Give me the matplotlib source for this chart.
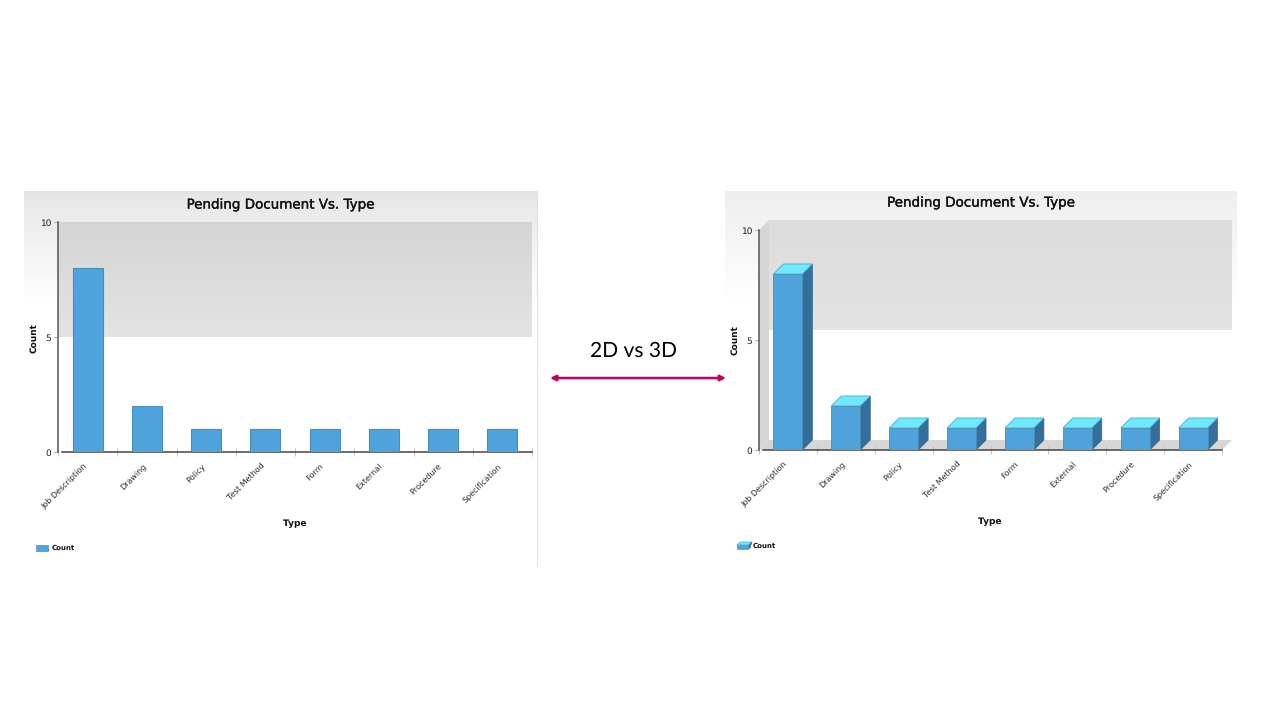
import numpy as np
import matplotlib
matplotlib.use('Agg')
import matplotlib.pyplot as plt
import matplotlib.patheffects as pe
from matplotlib.patches import Polygon, Rectangle
from matplotlib.transforms import ScaledTranslation

types = ['Job Description', 'Drawing', 'Policy', 'Test Method', 'Form',
         'External', 'Procedure', 'Specification']
counts = [8, 2, 1, 1, 1, 1, 1, 1]
y_ticks = [0, 5, 10]
title = 'Pending Document Vs. Type'

BAR = '#4fa3dc'
BAR_EDGE = '#4a8db5'
TOP = '#70e9ff'
SIDE = '#336f9a'
WALL = '#d6d6d6'
TEXT = '#222222'

plt.rcParams['font.family'] = 'DejaVu Sans'
plt.rcParams['text.hinting'] = 'no_hinting'
plt.rcParams['text.hinting_factor'] = 1

W, H = 1280, 720
fig = plt.figure(figsize=(W / 100, H / 100), dpi=100)


def px_axes(x0, y0, x1, y1):
    # axes placed with picture pixels, y measured from the top
    ax = fig.add_axes([x0 / W, 1 - y1 / H, (x1 - x0) / W, (y1 - y0) / H])
    ax.patch.set_alpha(0)
    return ax


def gradient(ax, extent, c_top, c_bottom, zorder=0):
    cmap = matplotlib.colors.LinearSegmentedColormap.from_list('g', [c_top, c_bottom])
    ax.imshow(np.linspace(0, 1, 128).reshape(-1, 1), cmap=cmap, extent=extent,
              aspect='auto', zorder=zorder, origin='upper')


# page layer, in pixels
bg = px_axes(0, 0, W, H)
bg.axis('off')
gradient(bg, (24, 538, 300, 191), '#e6e6e6', '#ffffff')
gradient(bg, (725, 1237, 300, 191), '#eeeeee', '#ffffff')
bg.plot([24, 537, 537], [191.5, 191.5, 565], color='#e2e2e2', lw=0.8)
bg.plot([725, 1237], [191.5, 191.5], color='#eeeeee', lw=0.8)
bg.set_xlim(0, W)
bg.set_ylim(H, 0)

stroke = [pe.withStroke(linewidth=0.25, foreground='#111111')]
bg.text(278, 205, title, ha='center', va='center', fontsize=9.7, color='#111111',
        path_effects=stroke)
bg.text(978.5, 203, title, ha='center', va='center', fontsize=9.7, color='#111111',
        path_effects=stroke)
bg.text(634, 351, '2D vs 3D', ha='center', va='center', fontsize=15,
        family='Lato', color='#000000')
bg.annotate('', xy=(550, 378), xytext=(726, 378),
            arrowprops=dict(arrowstyle='<|-|>', color='#c2005f', lw=1.8,
                            mutation_scale=8, shrinkA=0, shrinkB=0))

# axis titles and legends
bg.text(33.5, 338, 'Count', rotation=90, ha='center', va='center', fontsize=6.2,
        fontweight='bold', color='#111111')
bg.text(295, 524, 'Type', ha='center', va='center', fontsize=6.2,
        fontweight='bold', color='#111111')
bg.add_patch(Rectangle((36, 545), 12, 6, fc=BAR, ec=BAR_EDGE, lw=0.5))
bg.text(52, 548, 'Count', ha='left', va='center', fontsize=4.9, fontweight='bold',
        color='#111111')

bg.text(734.5, 340, 'Count', rotation=90, ha='center', va='center', fontsize=6.2,
        fontweight='bold', color='#111111')
bg.text(990, 522, 'Type', ha='center', va='center', fontsize=6.2,
        fontweight='bold', color='#111111')
bg.add_patch(Polygon([(737, 545), (740, 542), (752, 542), (749, 545)], fc=TOP, ec=BAR_EDGE, lw=0.4))
bg.add_patch(Polygon([(749, 545), (752, 542), (750, 548), (748, 549)], fc=SIDE, ec=SIDE, lw=0.4))
bg.add_patch(Rectangle((737, 545), 11, 4, fc=BAR, ec=BAR_EDGE, lw=0.4))
bg.text(753, 545.5, 'Count', ha='left', va='center', fontsize=4.9, fontweight='bold',
        color='#111111')


def style_axes(ax, n, gap):
    for s in ('top', 'right'):
        ax.spines[s].set_visible(False)
    ax.spines['left'].set_color('#555555')
    ax.spines['left'].set_linewidth(1.1)
    ax.spines['bottom'].set_color('#444444')
    ax.spines['bottom'].set_linewidth(1.1)
    ax.spines['bottom'].set_bounds(-0.5 + gap, n - 0.5)
    ax.set_yticks(y_ticks)
    ax.tick_params(axis='y', length=3, width=0.6, color='#999999', labelsize=6.4,
                   labelcolor=TEXT, pad=2)
    ax.set_xticks(np.arange(n))
    ax.set_xticks(np.arange(n + 1) - 0.5, minor=True)
    ax.tick_params(axis='x', which='major', length=0, pad=7)
    ax.tick_params(axis='x', which='minor', length=6, width=0.6, color='#bbbbbb',
                   direction='inout')
    ax.set_xticklabels(types, rotation=45, ha='right', va='top', rotation_mode='anchor',
                       fontsize=5.8, color=TEXT)
    shift = ScaledTranslation(-5 / 100, 0, fig.dpi_scale_trans)
    for lab in ax.get_xticklabels():
        lab.set_transform(lab.get_transform() + shift)


# 2D chart
n = len(types)
ax2 = px_axes(58, 222, 532, 452)
gradient(ax2, (-0.5, n - 0.5, 5, 10), '#d5d5d5', '#e3e3e3')
ax2.bar(np.arange(n), counts, width=0.51, color=BAR, edgecolor=BAR_EDGE, linewidth=0.8, zorder=3)
ax2.set_xlim(-0.5, n - 0.5)
ax2.set_ylim(0, 10)
style_axes(ax2, n, 4 / 59.25)

# 3D chart, depth offset is 10 px in both directions
cat_px = (1222 - 759) / n
val_px = (450 - 230) / 10
dx = 10 / cat_px
dy = 10 / val_px
ax3 = px_axes(759, 220, 1232, 450)
ax3.set_xlim(-0.5, n - 0.5 + dx)
ax3.set_ylim(0, 10 + dy)
gradient(ax3, (-0.5 + dx, n - 0.5 + dx, 5 + dy, 10 + dy), '#dcdcdc', '#e3e3e3')
ax3.add_patch(Polygon([(-0.5, 0), (-0.5 + dx, dy), (-0.5 + dx, 10 + dy), (-0.5, 10)],
                      fc=WALL, ec='none', zorder=1))
ax3.add_patch(Polygon([(-0.5, 0), (-0.5 + dx, dy), (n - 0.5 + dx, dy), (n - 0.5, 0)],
                      fc=WALL, ec='none', zorder=1))
bw = 0.5
for i, v in enumerate(counts):
    l, r = i - bw / 2, i + bw / 2
    ax3.add_patch(Polygon([(r, 0), (r + dx, dy), (r + dx, v + dy), (r, v)],
                          fc=SIDE, ec='#2f6a92', lw=0.5, zorder=3))
    ax3.add_patch(Polygon([(l, v), (l + dx, v + dy), (r + dx, v + dy), (r, v)],
                          fc=TOP, ec='#4aa9c6', lw=0.6, zorder=3))
ax3.bar(np.arange(n), counts, width=bw, color=BAR, edgecolor=BAR_EDGE, linewidth=0.6, zorder=4)
style_axes(ax3, n, 4 / cat_px)
ax3.spines['left'].set_bounds(0, 10)

fig.savefig('out.png', dpi=100, facecolor='white')
